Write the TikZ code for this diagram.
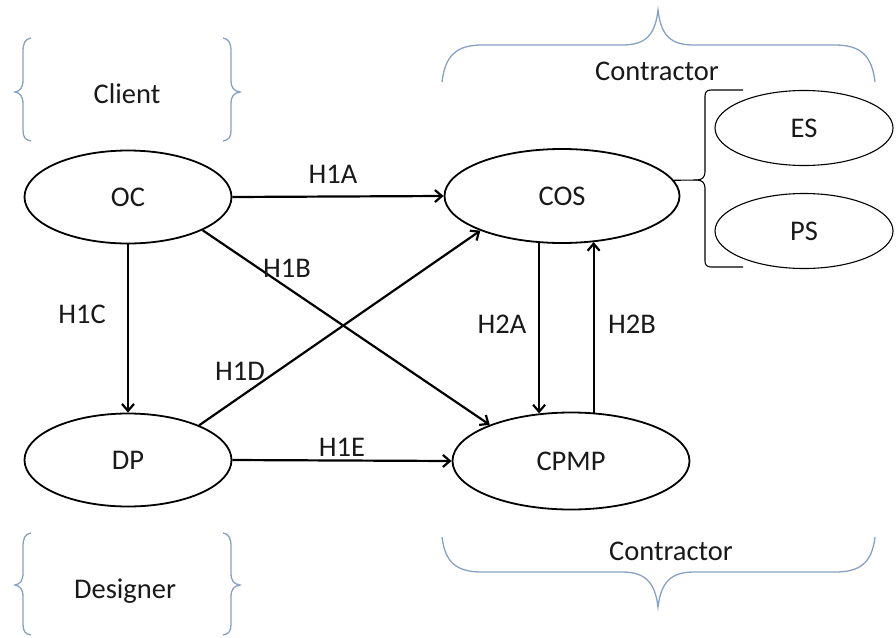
\documentclass[tikz,border=0pt]{standalone}
\usepackage{fontspec}
\setmainfont{Carlito}
\usetikzlibrary{shapes.geometric,arrows.meta}
\definecolor{bracecol}{RGB}{135,160,195}
\definecolor{txtcol}{RGB}{25,25,25}
\tikzset{
  construct/.style={ellipse, draw=black, line width=1.8pt, inner sep=0pt,
    text=txtcol, font=\fontsize{28.5}{34}\selectfont},
  bigone/.style={construct, minimum width=235pt, minimum height=94pt},
  smallone/.style={construct, minimum width=207pt, minimum height=93pt},
  sideone/.style={ellipse, draw=black, line width=1.1pt, inner sep=0pt,
    minimum width=178pt, minimum height=75pt, text=txtcol,
    font=\fontsize{28.5}{34}\selectfont},
  hyp/.style={line width=2.2pt, -{Straight Barb[length=7pt,width=12pt]}},
  lbl/.style={anchor=base, text=txtcol, inner sep=0pt, font=\fontsize{28.5}{34}\selectfont},
  brace/.style={draw=bracecol, line width=1.3pt},
}
\begin{document}
\begin{tikzpicture}[x=1pt, y=-1pt]
\useasboundingbox (0,0) rectangle (896,637);

% constructs
\node[smallone] (OC) at (128,197) {OC};
\node[smallone] (DP) at (128,460) {DP};
\node[bigone] (COS) at (562,196) {COS};
\node[bigone, minimum width=237pt, minimum height=97pt] (CPMP) at (571,461) {CPMP};
\node[sideone] (ES) at (804,128) {ES};
\node[sideone] (PS) at (804,231) {PS};

% hypotheses
\draw[hyp] (OC.east) -- (COS.west);
\draw[hyp] (OC.-24) -- (CPMP.156.7);
\draw[hyp] (OC.south) -- (DP.north);
\draw[hyp] (DP.26) -- (COS.203.8);
\draw[hyp] (DP.east) -- (CPMP.west);
\draw[hyp] (COS.244) -- (COS.244 |- CPMP.124);
\draw[hyp] (CPMP.65) -- (CPMP.65 |- COS.305);

\node[lbl] (h1a) at (333,183) {H1A};
\node[lbl] (h1b) at (287,277) {H1B};
\node[lbl] (h1c) at (82,323) {H1C};
\node[lbl] (h1d) at (240,380) {H1D};
\node[lbl] (h1e) at (342,456) {H1E};
\node[lbl] (h2a) at (502,333) {H2A};
\node[lbl] (h2b) at (632,333) {H2B};

% bracket joining COS to its two dimensions
\coordinate (tip) at (697,180);
\draw[line width=1.1pt] (COS.8.2) -- (tip);
\draw[line width=1.1pt] (743,90) -- (711,90) .. controls (707,90) and (705,92) .. (705,96)
  -- (705,172) .. controls (705,177) and (702,180) .. (tip)
  .. controls (702,180) and (705,183) .. (705,188)
  -- (705,261) .. controls (705,265) and (707,267) .. (711,267) -- (743,267);

% client braces
\draw[brace] (31,38) .. controls (25,39) and (23,43) .. (23,52) -- (23,80)
  .. controls (23,88) and (20,91) .. (15,92) .. controls (20,93) and (23,96) .. (23,104)
  -- (23,130) .. controls (23,137) and (25,140) .. (31,141);
\draw[brace] (223,38) .. controls (229,39) and (231,43) .. (231,52) -- (231,80)
  .. controls (231,88) and (234,91) .. (240,92) .. controls (234,93) and (231,96) .. (231,104)
  -- (231,130) .. controls (231,137) and (229,140) .. (223,141);
\node[lbl] (client) at (127,103) {Client};

% designer braces
\draw[brace] (31,533) .. controls (25,534) and (23,538) .. (23,547) -- (23,573)
  .. controls (23,581) and (20,584) .. (15,585) .. controls (20,586) and (23,589) .. (23,597)
  -- (23,624) .. controls (23,631) and (25,634) .. (31,635);
\draw[brace] (223,533) .. controls (229,534) and (231,538) .. (231,547) -- (231,573)
  .. controls (231,581) and (234,584) .. (240,585) .. controls (234,586) and (231,589) .. (231,597)
  -- (231,624) .. controls (231,631) and (229,634) .. (223,635);
\node[lbl] (designer) at (125,598) {Designer};

% contractor braces
\draw[brace] (442,82) .. controls (445,56) and (456,45) .. (482,45) -- (622,45)
  .. controls (645,45) and (655,36) .. (658,10)
  .. controls (661,36) and (671,45) .. (694,45) -- (835,45)
  .. controls (861,45) and (872,56) .. (875,82);
\node[lbl] (contop) at (657,80) {Contractor};

\draw[brace] (442,537) .. controls (445,562) and (456,572) .. (482,572) -- (622,572)
  .. controls (645,572) and (655,582) .. (658,607)
  .. controls (661,582) and (671,572) .. (694,572) -- (835,572)
  .. controls (861,572) and (872,562) .. (875,537);
\node[lbl] (conbot) at (671,560) {Contractor};
\end{tikzpicture}
\end{document}
